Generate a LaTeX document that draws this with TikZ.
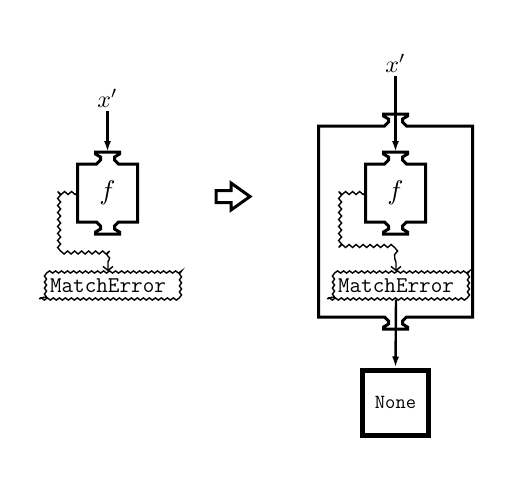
\documentclass[tikz,border=0pt]{standalone}
\usepackage{graphicx}
\usetikzlibrary{arrows.meta,decorations.pathmorphing,calc}
\tikzset{
  blockline/.style={line width=3pt, line join=miter},
  flow/.style={line width=2.4pt, -{Latex[length=11pt,width=7pt]}},
  wavy/.style={line width=1.4pt, decorate,
    decoration={snake, amplitude=1.5pt, segment length=7pt, post length=7pt},
    -{Straight Barb[length=4pt,width=10pt,line width=1.4pt]}},
  errbox/.style={draw, line width=1.4pt, decorate,
    decoration={snake, amplitude=1.1pt, segment length=6pt},
    minimum width=137pt, minimum height=27pt, inner sep=0pt,
    font=\fontsize{22.5}{26}\selectfont\ttfamily},
  fbody/.style={minimum width=60pt, minimum height=58pt, inner sep=0pt},
  lbl/.style={inner sep=0pt},
  nonebox/.style={draw, line width=5pt, minimum width=66pt, minimum height=65pt,
    inner sep=0pt, font=\fontsize{20}{22}\selectfont\ttfamily},
  hollow/.style={line width=3pt, line join=miter}
}
\newcommand\tabbed[3]{%
  \begin{scope}[shift={(#1.center)}]
    \draw[blockline] (-#2,-#3) -- (-11,-#3) -- (-7,{-#3-4}) -- (-7,{-#3-7})
      -- (-12,{-#3-10}) -- (-12,{-#3-12}) -- (12,{-#3-12}) -- (12,{-#3-10})
      -- (7,{-#3-7}) -- (7,{-#3-4}) -- (11,-#3) -- (#2,-#3) -- (#2,#3)
      -- (11,#3) -- (7,{#3+4}) -- (7,{#3+7}) -- (12,{#3+10}) -- (12,{#3+12})
      -- (-12,{#3+12}) -- (-12,{#3+10}) -- (-7,{#3+7}) -- (-7,{#3+4})
      -- (-11,#3) -- (-#2,#3) -- cycle;
    \coordinate (#1-in) at (0,{-#3-12});
    \coordinate (#1-out) at (0,{#3+12});
  \end{scope}}
\newcommand\xlbl{\scalebox{2.4}{$x'$}}
\newcommand\flbl{\scalebox{2.7}{$f$}}
\begin{document}
\begin{tikzpicture}[x=1pt,y=-1pt]
  \useasboundingbox (0,0) rectangle (512,477);
  % left part
  \node[lbl] (x1) at (107.5,98) {\xlbl};
  \node[fbody] (f1) at (107.5,193) {\flbl};
  \tabbed{f1}{30}{29}
  \node[errbox] (e1) at (108,285.5) {MatchError};
  \draw[flow] (x1.south) ++(0,4) coordinate (x1s) (x1s) -- (f1-in);
  \draw[wavy] (f1.west) -- ++(-19,0) |- ($(e1.north)+(0,-19)$) -- (e1.north);
  % hollow arrow
  \draw[hollow] (216,190.5) -- (231,190.5) -- (231,183) -- (250,196.5)
    -- (231,210) -- (231,202.5) -- (216,202.5) -- cycle;
  % right part
  \node[minimum width=154pt, minimum height=191pt, inner sep=0pt] (outer) at (395.5,221.5) {};
  \tabbed{outer}{77}{95.5}
  \node[lbl] (x2) at (395.5,63) {\xlbl};
  \node[fbody] (f2) at (395.5,193) {\flbl};
  \tabbed{f2}{30}{29}
  \node[errbox] (e2) at (396,285.5) {MatchError};
  \draw[flow] (x2.south) ++(0,4) coordinate (x2s) (x2s) -- (f2-in);
  \draw[wavy] (f2.west) -- ++(-24,0) |- ($(e2.north)+(0,-21)$) -- (e2.north);
  \node[nonebox] (none) at (395.5,402.5) {None};
  \draw[flow] (e2.south) -- (none.north);
\end{tikzpicture}
\end{document}
